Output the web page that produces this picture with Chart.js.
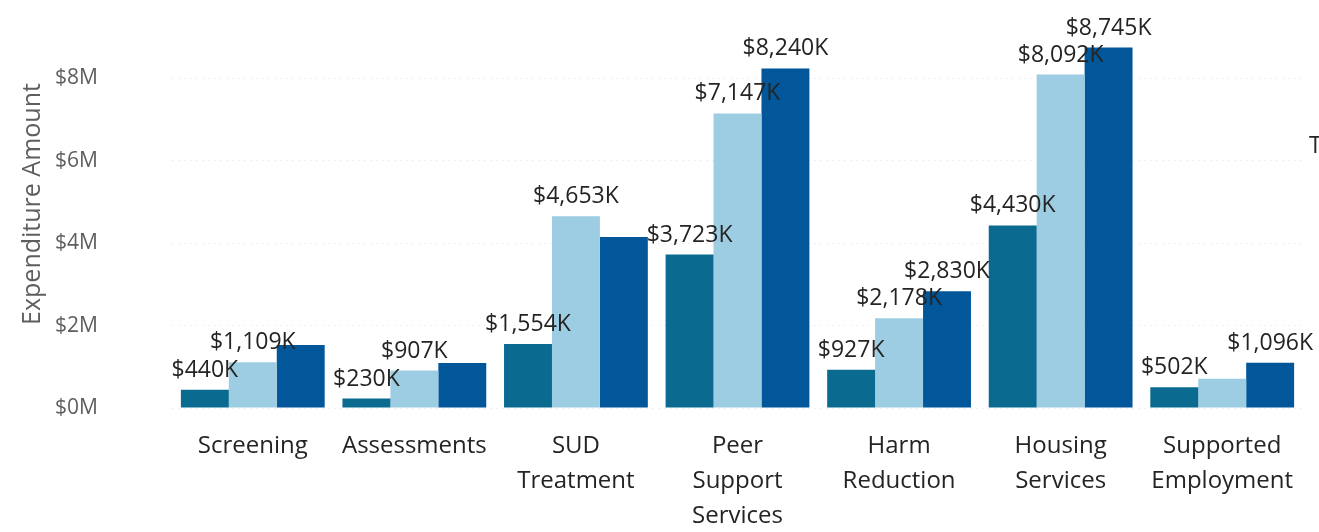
<!DOCTYPE html>
<html>
<head>
<meta charset="utf-8">
<script src="https://cdn.jsdelivr.net/npm/chart.js@4/dist/chart.umd.min.js"></script>
<style>
  html, body { margin: 0; padding: 0; background: #fff; }
  #wrap { width: 1319px; height: 532px; position: relative; }
</style>
</head>
<body>
<div id="wrap"><canvas id="expChart"></canvas></div>
<script>
const categories = [
    'Screening', 'Assessments', ['SUD', 'Treatment'], ['Peer', 'Support', 'Services'],
    ['Harm', 'Reduction'], ['Housing', 'Services'], ['Supported', 'Employment']
];
const seriesNames = ['Year 1', 'Year 2', 'Year 3'];
const series1 = [440000, 230000, 1554000, 3723000, 927000, 4430000, 502000];
const series2 = [1109000, 907000, 4653000, 7147000, 2178000, 8092000, 710000];
const series3 = [1530000, 1090000, 4150000, 8240000, 2830000, 8745000, 1096000];
// which bars carry a data label in the reference
const show1 = [true, true, true, true, true, true, true];
const show2 = [true, true, true, true, true, true, false];
const show3 = [false, false, false, true, true, true, true];
const yTicks = [0, 2000000, 4000000, 6000000, 8000000];

const colors = ['#0a6a90', '#9dcde3', '#02579b'];
const textFont = '"Segoe UI", "Open Sans", sans-serif';

function fmtK(v) {
    return '$' + Math.round(v / 1000).toLocaleString('en-US') + 'K';
}

const barLabels = {
    id: 'barLabels',
    afterDatasetsDraw(chart) {
        const ctx = chart.ctx;
        const flags = [show1, show2, show3];
        ctx.save();
        ctx.font = '23px ' + textFont;
        ctx.fillStyle = '#252423';
        ctx.textAlign = 'center';
        ctx.textBaseline = 'alphabetic';
        chart.data.datasets.forEach(function(ds, di) {
            const meta = chart.getDatasetMeta(di);
            meta.data.forEach(function(bar, i) {
                if (!flags[di][i]) return;
                ctx.fillText(fmtK(ds.data[i]), bar.x, bar.y - 13);
            });
        });
        // clipped legend title at the right edge
        ctx.textAlign = 'left';
        ctx.fillText('T', 1309, 153);
        ctx.restore();
    }
};

const ctx1 = document.getElementById('expChart').getContext('2d');
new Chart(ctx1, {
    type: 'bar',
    data: {
        labels: categories,
        datasets: [
            { label: seriesNames[0], data: series1, backgroundColor: colors[0] },
            { label: seriesNames[1], data: series2, backgroundColor: colors[1] },
            { label: seriesNames[2], data: series3, backgroundColor: colors[2] }
        ]
    },
    options: {
        responsive: true,
        maintainAspectRatio: false,
        animation: false,
        layout: { padding: { top: 0, right: 16, left: 0, bottom: 0 }, autoPadding: false },
        categoryPercentage: 0.89,
        barPercentage: 1.0,
        plugins: {
            legend: { display: false },
            tooltip: { enabled: false }
        },
        scales: {
            x: {
                afterFit(scale) { scale.height = 124; },
                grid: { display: false, drawTicks: false },
                border: { display: false },
                ticks: {
                    color: '#252423',
                    font: { family: textFont, size: 24, lineHeight: 1.46 },
                    padding: 21,
                    maxRotation: 0,
                    autoSkip: false
                }
            },
            y: {
                min: 0,
                max: 9900000,
                afterFit(scale) {
                    scale.width = 172;
                    scale.paddingTop = 0;
                    scale.paddingBottom = 0;
                },
                afterBuildTicks(scale) {
                    scale.ticks = yTicks.map(function(v) { return { value: v }; });
                },
                grid: {
                    color: '#efefef',
                    lineWidth: 1,
                    drawTicks: false
                },
                border: { display: false, dash: [2, 4] },
                ticks: {
                    color: '#605e5c',
                    font: { family: textFont, size: 21 },
                    padding: 74,
                    callback: function(v) { return '$' + (v / 1000000) + 'M'; }
                },
                title: {
                    display: true,
                    text: 'Expenditure Amount',
                    color: '#605e5c',
                    font: { family: textFont, size: 25 },
                    padding: 18
                }
            }
        }
    },
    plugins: [barLabels]
});
</script>
</body>
</html>
